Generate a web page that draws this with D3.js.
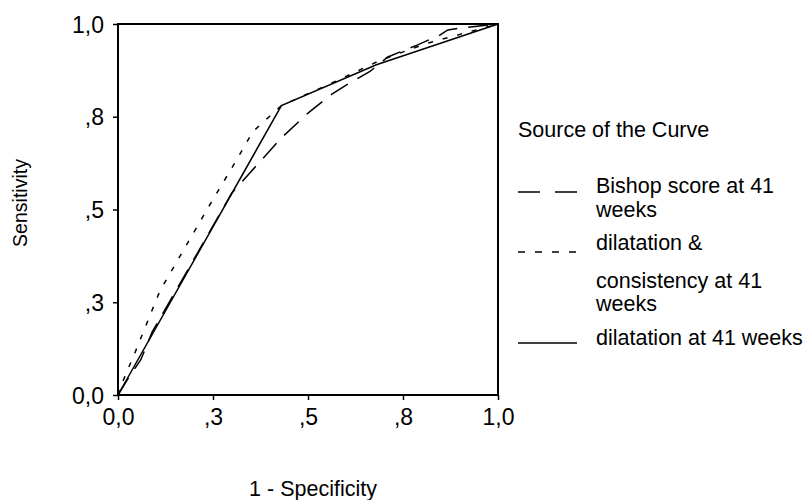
<!DOCTYPE html>
<html>
<head>
<meta charset="utf-8">
<script src="https://cdn.jsdelivr.net/npm/d3@7"></script>
<style>
  html, body { margin: 0; padding: 0; background: #fff; }
  svg { display: block; font-family: "Liberation Sans", Arial, sans-serif; }
</style>
</head>
<body>
<svg id="chart" width="804" height="500"></svg>
<script>
// ROC curves: 1 - specificity (x) against sensitivity (y)
const bishopX = [0, 0.03, 0.06, 0.09, 0.30, 0.43, 0.50, 0.563, 0.592, 0.637, 0.663, 0.71, 0.787, 0.847, 0.868, 0.90, 1];
const bishopY = [0, 0.05, 0.095, 0.17, 0.545, 0.693, 0.76, 0.811, 0.83, 0.857, 0.872, 0.911, 0.943, 0.97, 0.984, 0.989, 1];

const dilConsX = [0, 0.012, 0.045, 0.11, 0.24, 0.31, 0.355, 0.43, 0.55, 0.69, 0.81, 0.90, 1];
const dilConsY = [0, 0.035, 0.115, 0.28, 0.51, 0.63, 0.71, 0.78, 0.835, 0.902, 0.947, 0.972, 1];

const dilX = [0, 0.43, 0.68, 1];
const dilY = [0, 0.78, 0.89, 1];

const tickValues = [0, 0.25, 0.5, 0.75, 1];
const tickLabels = ["0,0", ",3", ",5", ",8", "1,0"];

const seriesNames = ["Bishop score at 41 weeks", "dilatation & consistency at 41 weeks", "dilatation at 41 weeks"];

const svg = d3.select("#chart");
const plotLeft = 118, plotRight = 498, plotTop = 24, plotBottom = 395;

const x = d3.scaleLinear().domain([0, 1]).range([plotLeft, plotRight]);
const y = d3.scaleLinear().domain([0, 1]).range([plotBottom, plotTop]);

const tickFont = 23;
const textFont = 21.5;

// axes
const xAxis = d3.axisBottom(x).tickValues(tickValues)
  .tickFormat((d, i) => tickLabels[i]).tickSizeOuter(0).tickSizeInner(5).tickPadding(9);
const yAxis = d3.axisLeft(y).tickValues(tickValues)
  .tickFormat((d, i) => tickLabels[i]).tickSizeOuter(0).tickSizeInner(5).tickPadding(9);

const gx = svg.append("g").attr("transform", `translate(0,${plotBottom})`).call(xAxis);
const gy = svg.append("g").attr("transform", `translate(${plotLeft},0)`).call(yAxis);
[gx, gy].forEach(g => {
  g.select(".domain").remove();
  g.selectAll(".tick line").attr("stroke", "#000").attr("stroke-width", 1.5);
  g.selectAll(".tick text").attr("fill", "#000").style("font-size", tickFont + "px")
    .style("font-family", "'Liberation Sans', Arial, sans-serif");
});
gy.selectAll(".tick text").attr("dy", "0.35em");

// plot frame
svg.append("rect")
  .attr("x", plotLeft).attr("y", plotTop)
  .attr("width", plotRight - plotLeft).attr("height", plotBottom - plotTop)
  .attr("fill", "none").attr("stroke", "#000").attr("stroke-width", 2);

// curves
const line = d3.line().x(d => x(d[0])).y(d => y(d[1]));
const series = [
  { name: seriesNames[0], xs: bishopX, ys: bishopY, dash: "20,11" },
  { name: seriesNames[1], xs: dilConsX, ys: dilConsY, dash: "5,10" },
  { name: seriesNames[2], xs: dilX, ys: dilY, dash: null }
];
series.forEach(s => {
  const pts = s.xs.map((v, i) => [v, s.ys[i]]);
  svg.append("path")
    .datum(pts)
    .attr("d", line)
    .attr("fill", "none")
    .attr("stroke", "#000")
    .attr("stroke-width", 1.5)
    .attr("stroke-dasharray", s.dash);
});

// axis titles
svg.append("text")
  .attr("x", 313).attr("y", 496)
  .attr("text-anchor", "middle")
  .style("font-size", textFont + "px")
  .text("1 - Specificity");

svg.append("text")
  .attr("transform", "translate(27,203) rotate(-90)")
  .attr("text-anchor", "middle")
  .style("font-size", "19.5px")
  .text("Sensitivity");

// legend
const lg = svg.append("g");
lg.append("text").attr("x", 518).attr("y", 137).style("font-size", textFont + "px")
  .text("Source of the Curve");

const legendRows = [
  { dash: "22,15", lineY: 192, lines: [["Bishop score at 41", 193], ["weeks", 217]] },
  { dash: "7,10", lineY: 252, lines: [["dilatation &", 250], ["consistency at 41", 288], ["weeks", 311]] },
  { dash: null, lineY: 343, lines: [["dilatation at 41 weeks", 345]] }
];
legendRows.forEach(r => {
  lg.append("line")
    .attr("x1", 518).attr("x2", 577)
    .attr("y1", r.lineY).attr("y2", r.lineY)
    .attr("stroke", "#000").attr("stroke-width", 1.5)
    .attr("stroke-dasharray", r.dash);
  r.lines.forEach(([t, yy]) => {
    lg.append("text").attr("x", 596).attr("y", yy)
      .style("font-size", textFont + "px").text(t);
  });
});
</script>
</body>
</html>
